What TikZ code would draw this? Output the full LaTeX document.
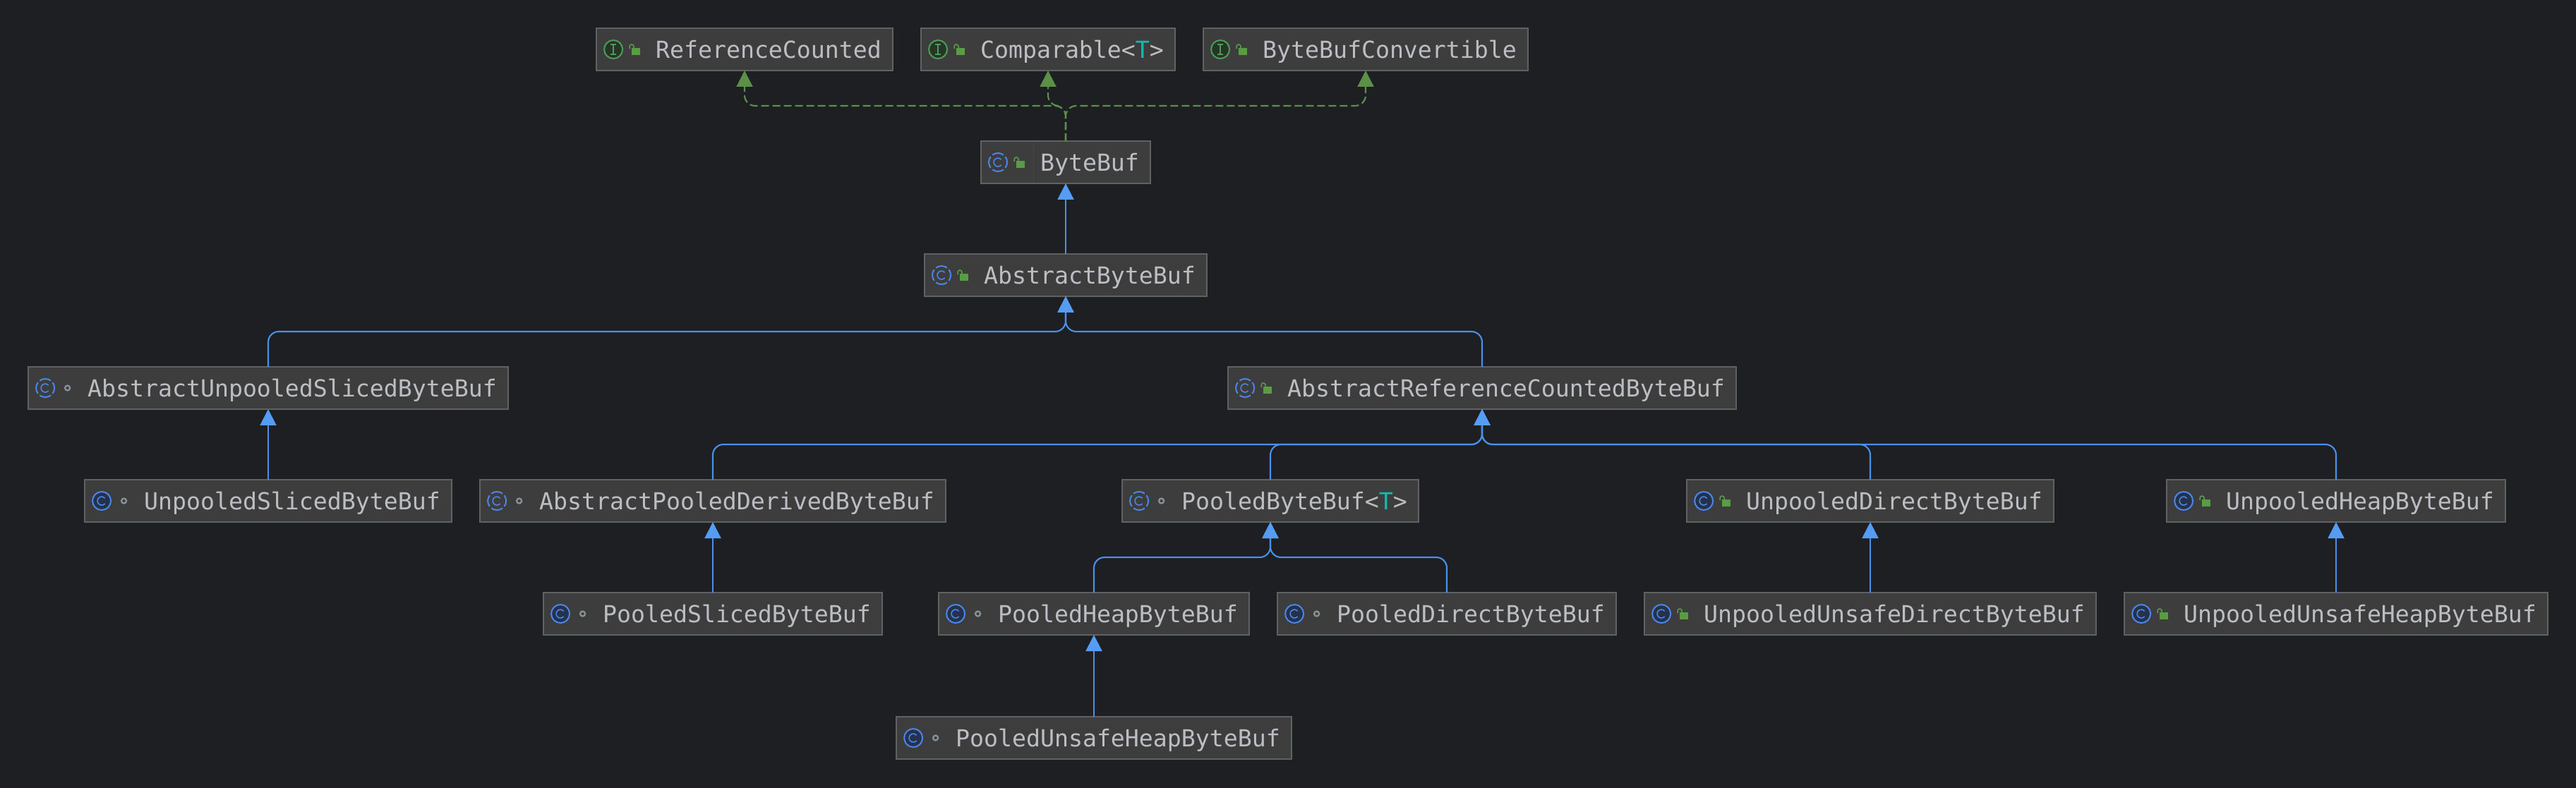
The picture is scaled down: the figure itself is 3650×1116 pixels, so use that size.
\documentclass[tikz,border=0pt]{standalone}
\usepackage{fontspec}
\setmonofont{DejaVu Sans Mono}
\usepackage{tikz}
\usetikzlibrary{arrows.meta}
\definecolor{canvas}{HTML}{1E1F22}
\definecolor{boxfill}{HTML}{3D3D3D}
\definecolor{boxline}{HTML}{606161}
\definecolor{boxrule}{HTML}{474747}
\definecolor{boxtext}{HTML}{BCBEC4}
\definecolor{typevar}{HTML}{16BAAC}
\definecolor{inherit}{HTML}{4A8FE8}
\definecolor{inherittip}{HTML}{559CF5}
\definecolor{implement}{HTML}{5B9147}
\definecolor{lockgreen}{HTML}{5A9B46}
\definecolor{classring}{HTML}{4C85E8}
\definecolor{classcore}{HTML}{25324D}
\definecolor{ifacering}{HTML}{4F9A58}
\definecolor{ifacecore}{HTML}{253627}
\definecolor{dotring}{HTML}{87929A}
\tikzstyle{classbox} = [rectangle,
inner xsep=0.32cm,
inner ysep=0pt,
outer sep=0pt,
text height=0.84cm,
text depth=0.36cm,
font=\ttfamily\fontsize{18.9}{22}\selectfont,
text=boxtext,
draw=boxline,
line width=0.8pt,
fill=boxfill,
execute at begin node={\hspace*{1.36cm}}]
\tikzstyle{arrow} = [draw=inherit, line width=1.2pt, rounded corners=0.3cm, -{Triangle[length=0.46cm,width=0.46cm,color=inherittip]}]
\tikzstyle{dashedarrow} = [draw=implement, line width=1.2pt, rounded corners=0.3cm, dash pattern=on 0.22cm off 0.1cm, -{Triangle[length=0.46cm,width=0.46cm,color=implement,sep=0pt]}]
\tikzset{
  pics/ifaceicon/.style={code={
    \draw [ifacering, fill=ifacecore, line width=1.15pt] (24,0) circle [radius=13];
    \draw [ifacering, line width=0.9pt] (20,-7) -- (28,-7) (24,-7) -- (24,7) (20,7) -- (28,7);
  }},
  pics/classicon/.style={code={
    \draw [classring, fill=classcore, line width=1.15pt] (24,0) circle [radius=13];
    \draw [classring, line width=0.9pt] (24,0) ++(40:6) arc [start angle=40, end angle=320, radius=6];
  }},
  pics/abstracticon/.style={code={
    \foreach \a in {0,90,180,270}
      \draw [classring, line width=1.15pt] (24,0) ++(\a-37:13) arc [start angle=\a-37, end angle=\a+37, radius=13];
    \draw [classring, line width=0.9pt] (24,0) ++(40:6) arc [start angle=40, end angle=320, radius=6];
  }},
  pics/lockicon/.style={code={
    \fill [lockgreen] (50,-2) rectangle (62,8);
    \draw [lockgreen, line width=0.9pt] (47,-1) -- (47,-4) arc [start angle=180, end angle=360, radius=3] -- (53,-2);
  }},
  pics/dothicon/.style={code={
    \draw [dotring, line width=1.3pt] (55.5,0) circle [radius=3.5];
  }}
}

\begin{document}
\begin{tikzpicture}[x=0.02cm, y=-0.02cm]
    \useasboundingbox (0,0) rectangle (3650,1116);
    \fill [canvas] (-10,-10) rectangle (3660,1126);

    % Interfaces
    \node (refCounted) [classbox] at (1055,70) {ReferenceCounted};
    \node (comparable) [classbox] at (1485,70) {Comparable<\textcolor{typevar}{T}>};
    \node (bufConvert) [classbox] at (1935,70) {ByteBufConvertible};

    % Upper classes
    \node (byteBuf) [classbox] at (1510,230) {ByteBuf};
    \node (absBuf) [classbox] at (1510,390) {AbstractByteBuf};
    \node (absSliced) [classbox] at (380,550) {AbstractUnpooledSlicedByteBuf};
    \node (absRef) [classbox] at (2100,550) {AbstractReferenceCountedByteBuf};

    % Row below the abstract classes
    \node (unpSliced) [classbox] at (380,710) {UnpooledSlicedByteBuf};
    \node (absDerived) [classbox] at (1010,710) {AbstractPooledDerivedByteBuf};
    \node (pooled) [classbox] at (1800,710) {PooledByteBuf<\textcolor{typevar}{T}>};
    \node (unpDirect) [classbox] at (2650,710) {UnpooledDirectByteBuf};
    \node (unpHeap) [classbox] at (3310,710) {UnpooledHeapByteBuf};

    % Concrete classes
    \node (poolSliced) [classbox] at (1010,870) {PooledSlicedByteBuf};
    \node (poolHeap) [classbox] at (1550,870) {PooledHeapByteBuf};
    \node (poolDirect) [classbox] at (2050,870) {PooledDirectByteBuf};
    \node (unsafeDirect) [classbox] at (2650,870) {UnpooledUnsafeDirectByteBuf};
    \node (unsafeHeap) [classbox] at (3310,870) {UnpooledUnsafeHeapByteBuf};
    \node (poolUnsafe) [classbox] at (1550,1046) {PooledUnsafeHeapByteBuf};

    % Icons
    \foreach \n in {refCounted,comparable,bufConvert}
      \pic at (\n.west) {ifaceicon};
    \foreach \n in {byteBuf,absBuf,absSliced,absRef,absDerived,pooled}
      \pic at (\n.west) {abstracticon};
    \foreach \n in {unpSliced,unpDirect,unpHeap,poolSliced,poolHeap,poolDirect,unsafeDirect,unsafeHeap,poolUnsafe}
      \pic at (\n.west) {classicon};
    \foreach \n in {refCounted,comparable,bufConvert,byteBuf,absBuf,absRef,unpDirect,unpHeap,unsafeDirect,unsafeHeap}
      \pic at (\n.west) {lockicon};
    \foreach \n in {absSliced,unpSliced,absDerived,pooled,poolSliced,poolHeap,poolDirect,poolUnsafe}
      \pic at (\n.west) {dothicon};
    \draw [boxrule, line width=0.6pt] (byteBuf.west) ++(74,-29) -- ++(0,58);

    % Bus levels
    \coordinate (busTop) at (1510,150);
    \coordinate (busBuf) at (1510,470);
    \coordinate (busRef) at (2100,630);
    \coordinate (busPool) at (1800,790);

    % Implemented interfaces
    \draw [dashedarrow] (byteBuf.north) -- (busTop) -| (refCounted.south);
    \draw [dashedarrow] (byteBuf.north) -- (busTop) -| (comparable.south);
    \draw [dashedarrow] (byteBuf.north) -- (busTop) -| (bufConvert.south);

    % Extended classes
    \draw [arrow] (absBuf.north) -- (byteBuf.south);
    \draw [arrow] (absSliced.north) |- (busBuf) -- (absBuf.south);
    \draw [arrow] (absRef.north) |- (busBuf) -- (absBuf.south);
    \draw [arrow] (unpSliced.north) -- (absSliced.south);
    \draw [arrow] (absDerived.north) |- (busRef) -- (absRef.south);
    \draw [arrow] (pooled.north) |- (busRef) -- (absRef.south);
    \draw [arrow] (unpDirect.north) |- (busRef) -- (absRef.south);
    \draw [arrow] (unpHeap.north) |- (busRef) -- (absRef.south);
    \draw [arrow] (poolSliced.north) -- (absDerived.south);
    \draw [arrow] (poolHeap.north) |- (busPool) -- (pooled.south);
    \draw [arrow] (poolDirect.north) |- (busPool) -- (pooled.south);
    \draw [arrow] (unsafeDirect.north) -- (unpDirect.south);
    \draw [arrow] (unsafeHeap.north) -- (unpHeap.south);
    \draw [arrow] (poolUnsafe.north) -- (poolHeap.south);
\end{tikzpicture}
\end{document}
